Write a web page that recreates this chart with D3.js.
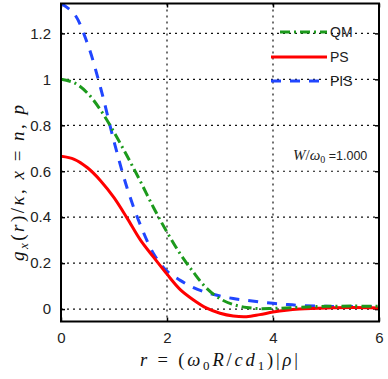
<!DOCTYPE html>
<html>
<head>
<meta charset="utf-8">
<script src="https://cdn.jsdelivr.net/npm/d3@7"></script>
<style>
  body { margin: 0; background: #fff; }
  svg { display: block; }
  .tick text { font-family: "Liberation Sans", Arial, sans-serif; font-size: 15px; fill: #222; }
</style>
</head>
<body>
<svg id="chart" width="388" height="379"></svg>
<script>
// ---- data ----
const rValues = [0, 0.25, 0.5, 0.75, 1, 1.25, 1.5, 1.75, 2, 2.25, 2.5, 2.75, 3, 3.25, 3.5, 3.75, 4, 4.25, 4.5, 5, 5.5, 6];
const qmValues  = [1.00, 0.985, 0.94, 0.865, 0.77, 0.665, 0.555, 0.44, 0.335, 0.24, 0.16, 0.09, 0.045, 0.02, 0.007, 0.002, 0.003, 0.005, 0.008, 0.012, 0.013, 0.012];
const psValues  = [0.665, 0.652, 0.615, 0.558, 0.485, 0.395, 0.30, 0.225, 0.152, 0.085, 0.04, 0.004, -0.018, -0.03, -0.033, -0.024, -0.013, -0.005, 0.0, 0.005, 0.007, 0.005];
const pisValues = [1.33, 1.285, 1.155, 0.96, 0.73, 0.525, 0.365, 0.24, 0.165, 0.125, 0.093, 0.072, 0.057, 0.046, 0.038, 0.031, 0.025, 0.02, 0.016, 0.012, 0.011, 0.010];
const xTicks = [0, 2, 4, 6];
const yTicks = [0, 0.2, 0.4, 0.6, 0.8, 1, 1.2];
const seriesNames = ["QM", "PS", "PIS"];

const series = [
  { name: seriesNames[0], values: qmValues,  color: "#1c9a1c", dash: "10,4,2,4" },
  { name: seriesNames[1], values: psValues,  color: "#ff0000", dash: null },
  { name: seriesNames[2], values: pisValues, color: "#2146ff", dash: "10,9" }
];

const pLeft = 61, pRight = 379, pTop = 3.5, pBottom = 321.5;
const svg = d3.select("#chart");

const x = d3.scaleLinear([0, 6], [pLeft, pRight]);
const y = d3.scaleLinear([-0.054, 1.33], [pBottom, pTop]);

// clip for curves
svg.append("clipPath").attr("id", "clip")
  .append("rect").attr("x", pLeft).attr("y", pTop).attr("width", pRight - pLeft).attr("height", pBottom - pTop);

// grid (dotted)
const grid = svg.append("g").attr("stroke", "#111").attr("stroke-width", 1.2).attr("stroke-dasharray", "2,4");
grid.selectAll("line.gx").data(xTicks.slice(1, -1)).enter().append("line")
  .attr("x1", d => x(d)).attr("x2", d => x(d)).attr("y1", pTop).attr("y2", pBottom);
grid.selectAll("line.gy").data(yTicks).enter().append("line")
  .attr("x1", pLeft).attr("x2", pRight).attr("y1", d => y(d)).attr("y2", d => y(d));

// axes with inner ticks
const xAxis = d3.axisBottom(x).tickValues(xTicks).tickFormat(d3.format("d")).tickSizeInner(-4).tickSizeOuter(0).tickPadding(11);
const yAxis = d3.axisLeft(y).tickValues(yTicks).tickFormat(d => d === 0 || d === 1 ? d : d.toFixed(1)).tickSizeInner(-4).tickSizeOuter(0).tickPadding(10);

svg.append("g").attr("transform", `translate(0,${pBottom})`).call(xAxis);
svg.append("g").attr("transform", `translate(${pLeft},0)`).call(yAxis);
svg.append("g").attr("transform", `translate(0,${pTop})`)
  .call(d3.axisTop(x).tickValues(xTicks).tickSizeInner(-4).tickSizeOuter(0).tickFormat(""));
svg.append("g").attr("transform", `translate(${pRight},0)`)
  .call(d3.axisRight(y).tickValues(yTicks).tickSizeInner(-4).tickSizeOuter(0).tickFormat(""));
svg.selectAll(".domain").remove();
svg.selectAll(".tick line").attr("stroke", "#000").attr("stroke-width", 1.5);

// curves
const line = d3.line().x(d => x(d[0])).y(d => y(d[1])).curve(d3.curveCatmullRom.alpha(0.5));
svg.append("g").attr("clip-path", "url(#clip)")
  .selectAll("path").data(series.slice().reverse()).enter().append("path")
  .attr("d", s => line(rValues.map((r, i) => [r, s.values[i]])))
  .attr("fill", "none")
  .attr("stroke", s => s.color)
  .attr("stroke-width", 3)
  .attr("stroke-dasharray", s => s.dash);

// frame
svg.append("rect").attr("x", pLeft).attr("y", pTop).attr("width", pRight - pLeft).attr("height", pBottom - pTop)
  .attr("fill", "none").attr("stroke", "#000").attr("stroke-width", 2);

// legend
const legY = [32, 57, 81];
const leg = svg.append("g");
series.forEach((s, i) => {
  leg.append("line").attr("x1", i === 0 ? 280 : 271).attr("x2", 327).attr("y1", legY[i]).attr("y2", legY[i])
    .attr("stroke", s.color).attr("stroke-width", 3).attr("stroke-dasharray", s.dash);
  leg.append("text").attr("x", 330).attr("y", legY[i] + 5)
    .attr("font-family", "Liberation Sans, Arial, sans-serif").attr("font-size", 14).attr("fill", "#222")
    .text(s.name);
});

// annotation W/ω0 = 1.000
const ann = svg.append("text").attr("x", 293).attr("y", 160)
  .attr("font-family", "Liberation Serif, serif").attr("font-size", 15).attr("fill", "#222");
ann.append("tspan").attr("font-style", "italic").text("W");
ann.append("tspan").text("/");
ann.append("tspan").attr("font-style", "italic").text("ω");
ann.append("tspan").attr("font-size", 10).attr("dy", 3).text("0");
ann.append("tspan").attr("dy", -3).attr("font-family", "Liberation Sans, Arial, sans-serif").attr("font-size", 12.5).text(" =1.000");

// x label
const xl = svg.append("text").attr("x", 219).attr("y", 366).attr("text-anchor", "middle")
  .attr("textLength", 158).attr("lengthAdjust", "spacing")
  .attr("font-family", "Liberation Serif, serif").attr("font-size", 18.5).attr("fill", "#111");
xl.append("tspan").attr("font-style", "italic").text("r");
xl.append("tspan").text(" = (");
xl.append("tspan").attr("font-style", "italic").text("ω");
xl.append("tspan").attr("font-size", 13).attr("dy", 4).text("0");
xl.append("tspan").attr("dy", -4).attr("font-style", "italic").text("R");
xl.append("tspan").text("/");
xl.append("tspan").attr("font-style", "italic").text("cd");
xl.append("tspan").attr("font-size", 13).attr("dy", 4).text("1");
xl.append("tspan").attr("dy", -4).text(")|");
xl.append("tspan").attr("font-style", "italic").text("ρ");
xl.append("tspan").text("|");

// y label
const yl = svg.append("text").attr("transform", "translate(24,183) rotate(-90)").attr("text-anchor", "middle")
  .attr("textLength", 156).attr("lengthAdjust", "spacing")
  .attr("font-family", "Liberation Serif, serif").attr("font-size", 19).attr("fill", "#111");
yl.append("tspan").attr("font-style", "italic").text("g");
yl.append("tspan").attr("font-style", "italic").attr("font-size", 13).attr("dy", 4).text("x");
yl.append("tspan").attr("dy", -4).text("(");
yl.append("tspan").attr("font-style", "italic").text("r");
yl.append("tspan").text(")/");
yl.append("tspan").attr("font-style", "italic").text("κ");
yl.append("tspan").text(", ");
yl.append("tspan").attr("font-style", "italic").text("x");
yl.append("tspan").text(" = ");
yl.append("tspan").attr("font-style", "italic").text("n");
yl.append("tspan").text(", ");
yl.append("tspan").attr("font-style", "italic").text("p");
</script>
</body>
</html>
